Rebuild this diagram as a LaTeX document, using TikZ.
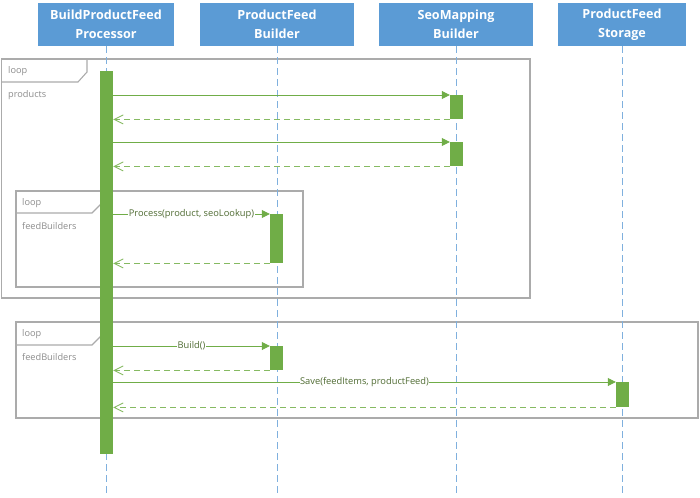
\documentclass[tikz,border=0pt]{standalone}
\usepackage{fontspec}
\setmainfont{Open Sans}
\usetikzlibrary{arrows.meta}
\definecolor{hdr}{HTML}{5B9BD5}
\definecolor{lifec}{HTML}{7FB0DE}
\definecolor{grn}{HTML}{70AD47}
\definecolor{grnl}{HTML}{86BA62}
\definecolor{frm}{HTML}{ABABAB}
\definecolor{lbl}{HTML}{8C8C8C}
\definecolor{msgtxt}{HTML}{4F6B32}
\begin{document}
\begin{tikzpicture}[x=1pt,y=-1pt,
 header/.style={fill=hdr, text=white, font=\bfseries\fontsize{12.6}{19.5}\selectfont, align=center, minimum height=43pt, inner sep=0pt},
 life/.style={lifec, line width=1pt, dash pattern=on 7pt off 4pt},
 act/.style={fill=grn, draw=none, minimum width=13pt, inner sep=0pt, anchor=north},
 msg/.style={grn, line width=0.8pt, -{Triangle[length=8pt,width=8pt]}},
 ret/.style={grnl, line width=0.9pt, dash pattern=on 6pt off 4pt, -{Straight Barb[length=9pt,width=9pt]}},
 frame/.style={draw=frm, line width=1.1pt},
 tag/.style={text=lbl, font=\fontsize{9.2}{11}\selectfont, anchor=west, inner sep=0pt},
 mlabel/.style={fill=white, text=msgtxt, font=\fontsize{9.3}{11}\selectfont, inner sep=0.5pt}
]
\useasboundingbox (0,0) rectangle (700,497);
% frames
\draw[frame] (1.5,59) rectangle (530,298);
\draw[frame] (1.5,82) -- (78,82) -- (87,72) -- (87,59);
\node[tag] (l1) at (8,71) {loop};
\node[tag] (g1) at (8,95) {products};
\draw[frame] (16,191) rectangle (303,287);
\draw[frame] (16,213) -- (92,213) -- (101,204) -- (101,191);
\node[tag] (l2) at (22,203) {loop};
\node[tag] (g2) at (22,226) {feedBuilders};
\draw[frame] (16,322) rectangle (698,418);
\draw[frame] (16,345) -- (92,345) -- (101,336) -- (101,322);
\node[tag] (l3) at (22,334) {loop};
\node[tag] (g3) at (22,357) {feedBuilders};
% headers
\node[header, minimum width=136pt] (h1) at (106,24.5) {BuildProductFeed\\Processor};
\node[header, minimum width=154pt] (h2) at (277,24.5) {ProductFeed\\Builder};
\node[header, minimum width=154pt] (h3) at (456,24.5) {SeoMapping\\Builder};
\node[header, minimum width=128pt] (h4) at (622,24.5) {ProductFeed\\Storage};
\coordinate (e1) at (106,497);
\coordinate (e2) at (277,497);
\coordinate (e3) at (456,497);
\coordinate (e4) at (622,497);
\draw[life] (h1.south) -- (e1);
\draw[life] (h2.south) -- (e2);
\draw[life] (h3.south) -- (e3);
\draw[life] (h4.south) -- (e4);
% activations
\node[act, minimum height=383pt] (pa) at (106.5,71) {};
\node[act, minimum height=24pt] (s1) at (456.5,95) {};
\node[act, minimum height=24pt] (s2) at (456.5,142) {};
\node[act, minimum height=49pt] (b1) at (276.5,214) {};
\node[act, minimum height=24pt] (b2) at (276.5,346) {};
\node[act, minimum height=25pt] (t1) at (622.5,382) {};
% messages
\draw[msg] (pa.east |- s1.north) -- (s1.north west);
\draw[ret] (s1.south west) -- (pa.east |- s1.south);
\draw[msg] (pa.east |- s2.north) -- (s2.north west);
\draw[ret] (s2.south west) -- (pa.east |- s2.south);
\draw[msg] (pa.east |- b1.north) -- node[mlabel] (m1) {Process(product, seoLookup)} (b1.north west);
\draw[ret] (b1.south west) -- (pa.east |- b1.south);
\draw[msg] (pa.east |- b2.north) -- node[mlabel] (m2) {Build()} (b2.north west);
\draw[ret] (b2.south west) -- (pa.east |- b2.south);
\draw[msg] (pa.east |- t1.north) -- node[mlabel] (m3) {Save(feedItems, productFeed)} (t1.north west);
\draw[ret] (t1.south west) -- (pa.east |- t1.south);
\end{tikzpicture}
\end{document}
